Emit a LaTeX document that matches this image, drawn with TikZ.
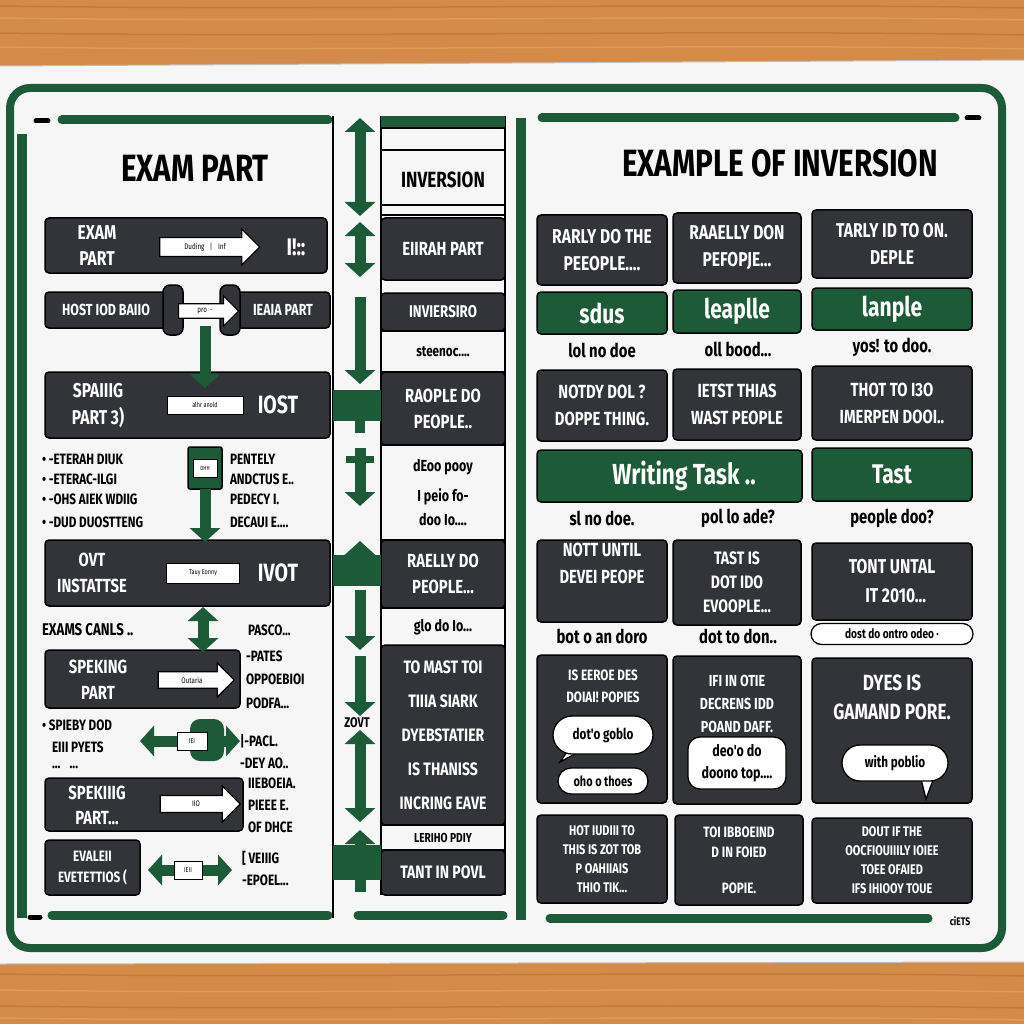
\documentclass[tikz,border=0pt]{standalone}
\usepackage{fontspec}
\setmainfont{Fira Sans}
\newfontfamily\cnd[FakeStretch=0.78]{Fira Sans}
\usetikzlibrary{arrows.meta,shapes.arrows,shapes.misc}
\newcommand\fsz[2]{\fontsize{#1}{#2}\selectfont}
\definecolor{wood}{HTML}{D38B47}
\definecolor{woodA}{HTML}{C47A3C}
\definecolor{woodB}{HTML}{DE9C58}
\definecolor{paper}{HTML}{F6F6F7}
\definecolor{gr}{HTML}{1C5A38}
\definecolor{dk}{HTML}{32343A}
\begin{document}
\begin{tikzpicture}[x=1pt,y=-1pt,
 base/.style={inner sep=0pt, outer sep=0pt, align=center, font=\cnd\bfseries},
 fs/.style 2 args={font=\cnd\bfseries\fsz{#1}{#2}},
 dbox/.style={base, fill=dk, draw=black, line width=1.5pt, rounded corners=4pt, text=white, anchor=north west},
 gbox/.style={base, fill=gr, draw=black, line width=1.5pt, rounded corners=4pt, text=white, anchor=north west},
 wbox/.style={base, fill=paper, draw=black, line width=1.3pt, anchor=north west, text=black},
 lbl/.style={base, text=black},
 wlbl/.style={base, text=white},
 tag/.style={base, fill=white, draw=black, line width=1pt, text=black, font=\cnd\fsz{7}{8}},
 warrow/.style={single arrow, fill=white, draw=black, line width=1.2pt, inner sep=2pt, single arrow head extend=6pt, text=black, font=\cnd\fsz{8}{9}},
 garrow/.style={draw=gr, line width=11pt, -{Triangle[length=14pt,width=30pt]}},
 gdarrow/.style={draw=gr, line width=11pt, {Triangle[length=14pt,width=30pt]}-{Triangle[length=14pt,width=30pt]}},
 gbar/.style={draw=gr, line width=9pt, line cap=round},
 bubble/.style={base, rounded rectangle, fill=white, draw=black, line width=1.3pt, text=black, fs={15}{18}},
]
\useasboundingbox (0,0) rectangle (1024,1024);
% ---------- table and paper
\fill[wood] (0,0) rectangle (1024,1024);
\foreach \yy/\cc in {6/woodA,18/woodB,33/woodA,47/woodB,974/woodA,990/woodB,1006/woodA,1018/woodB}
  \draw[\cc, line width=1.5pt] (0,\yy) .. controls (350,\yy+5) and (700,\yy-4) .. (1024,\yy+2);
\fill[paper] (0,66) -- (1024,60) -- (1024,962) -- (0,964) -- cycle;
\draw[black!25, line width=1pt] (0,66) -- (1024,60);
\draw[black!25, line width=1pt] (0,964) -- (1024,962);
\draw[gr, line width=8pt, rounded corners=20pt] (10,88) rectangle (1002,948);

% ---------- frame bars
\draw[gbar] (62,120) -- (328,120);
\draw[black, line width=5pt, line cap=round] (36,121) -- (48,121);
\draw[gr, line width=10pt] (22,134) -- (22,918);
\draw[black, line width=1.5pt] (333,116) -- (333,918);
\draw[gbar] (52,915) -- (328,915);
\draw[black, line width=5pt, line cap=round] (30,917) -- (40,917);
\draw[black, line width=1.5pt] (381,116) -- (381,895);
\draw[black, line width=1.5pt] (505,116) -- (505,895);
\draw[gbar] (358,915) -- (503,915);
\draw[gr, line width=10pt] (521,118) -- (521,920);
\draw[gbar] (542,118) -- (955,118);
\draw[black, line width=5pt, line cap=round] (967,118) -- (979,118);
\draw[gbar] (550,918) -- (928,918);
\node[lbl, fs={11}{12}] (sig) at (960,921) {ciETS};

% ---------- left panel
\node[lbl, fs={38}{40}] (t1) at (195,168) {EXAM PART};

\node[dbox, minimum width=282, minimum height=55] (r1) at (45,218) {};
\node[wlbl, fs={20}{26}] (r1a) at (97,246) {EXAM\\PART};
\node[warrow, minimum height=100, minimum width=36] (r1b) at (205,247) {Duding \; | \; Inf};
\node[wlbl, fs={24}{26}] (r1c) at (296,247) {I!::};

\node[dbox, minimum width=122, minimum height=36, fs={16}{18}] (r2a) at (45,292) {HOST IOD BAIIO};
\node[dbox, minimum width=94, minimum height=36, fs={16}{18}] (r2b) at (236,292) {IEAIA PART};
\node[dbox, minimum width=20, minimum height=50, rounded corners=7pt] (r2c) at (163,285) {};
\node[dbox, minimum width=20, minimum height=50, rounded corners=7pt] (r2d) at (220,285) {};
\node[warrow, minimum height=60, minimum width=30] (r2e) at (205,311) {pro \,-};
\coordinate (a1s) at (205,326);
\coordinate (a1e) at (205,388);

\node[dbox, minimum width=285, minimum height=66] (r4) at (45,372) {};
\node[wlbl, fs={20}{27}] (r4a) at (98,405) {SPAIIIG\\PART 3)};
\node[tag, minimum width=76, minimum height=18] (r4b) at (205,405) {alhr anold};
\node[wlbl, fs={25}{27}] (r4c) at (278,405) {IOST};

\node[lbl, anchor=west, fs={15}{17}] (b1) at (42,459) {• -ETERAH DIUK};
\node[lbl, anchor=west, fs={15}{17}] (b2) at (42,479) {• -ETERAC-ILGI};
\node[lbl, anchor=west, fs={15}{17}] (b3) at (42,499) {• -OHS AIEK WDIIG};
\node[lbl, anchor=west, fs={15}{17}] (b4) at (42,522) {• -DUD DUOSTTENG};
\node[gbox, minimum width=34, minimum height=42, rounded corners=2pt] (dev) at (188,447) {};
\node[tag, minimum width=24, minimum height=18, font=\cnd\fsz{6}{7}] (devt) at (205,468) {DHH};
\coordinate (a2s) at (205,489);
\coordinate (a2e) at (205,542);
\node[lbl, anchor=west, fs={15}{17}] (p1) at (230,459) {PENTELY};
\node[lbl, anchor=west, fs={15}{17}] (p2) at (230,479) {ANDCTUS E..};
\node[lbl, anchor=west, fs={15}{17}] (p3) at (230,499) {PEDECY I.};
\node[lbl, anchor=west, fs={15}{17}] (p4) at (230,522) {DECAUI E....};

\node[dbox, minimum width=285, minimum height=66] (r6) at (45,540) {};
\node[wlbl, fs={19}{26}] (r6a) at (92,573) {OVT\\INSTATTSE};
\node[tag, minimum width=73, minimum height=20] (r6b) at (203,573) {Tauy Eonny};
\node[wlbl, fs={25}{27}] (r6c) at (278,573) {IVOT};

\node[lbl, anchor=west, fs={17}{19}] (e1) at (42,630) {EXAMS CANLS ..};
\coordinate (a3s) at (203,607);
\coordinate (a3e) at (203,652);
\node[lbl, anchor=west, fs={15}{17}] (e2) at (248,630) {PASCO...};

\node[dbox, minimum width=195, minimum height=58] (r8) at (45,650) {};
\node[wlbl, fs={19}{26}] (r8a) at (98,680) {SPEKING\\PART};
\node[warrow, minimum height=76, minimum width=34] (r8b) at (192,680) {Outaria};
\node[lbl, anchor=west, fs={15}{17}] (q1) at (246,656) {-PATES};
\node[lbl, anchor=west, fs={15}{17}] (q2) at (246,679) {OPPOEBIOI};
\node[lbl, anchor=west, fs={15}{17}] (q3) at (246,703) {PODFA...};

\node[lbl, anchor=west, fs={15}{17}] (s1) at (42,725) {• SPIEBY DOD};
\node[lbl, anchor=west, fs={15}{17}] (s2) at (52,747) {EIII PYETS};
\node[lbl, anchor=west, fs={15}{17}] (s3) at (52,767) {... \ \ ...};
\node[gbox, minimum width=34, minimum height=42, rounded corners=10pt, draw=none] (blob) at (190,719) {};
\coordinate (a4s) at (140,741);
\coordinate (a4e) at (240,741);
\node[lbl, anchor=west, fs={15}{17}] (s4) at (240,741) {|-PACL.};
\node[lbl, anchor=west, fs={15}{17}] (s5) at (240,763) {-DEY AO..};

\node[dbox, minimum width=198, minimum height=53] (r10) at (45,778) {};
\node[wlbl, fs={19}{25}] (r10a) at (97,805) {SPEKIIIG\\PART...};
\node[warrow, minimum height=80, minimum width=36] (r10b) at (196,804) {IIO};
\node[lbl, anchor=west, fs={15}{17}] (u1) at (248,783) {IIEBOEIA.};
\node[lbl, anchor=west, fs={15}{17}] (u2) at (248,805) {PIEEE E.};
\node[lbl, anchor=west, fs={15}{17}] (u3) at (248,827) {OF DHCE};

\node[dbox, minimum width=95, minimum height=55, fs={15}{21}] (r11) at (45,840) {EVALEII\\EVETETTIOS (};
\coordinate (a5s) at (148,870);
\coordinate (a5e) at (232,870);
\node[lbl, anchor=west, fs={15}{17}] (v1) at (242,858) {[ VEIIIG};
\node[lbl, anchor=west, fs={15}{17}] (v2) at (242,880) {-EPOEL...};

% left arrows
\draw[garrow] (a1s) -- (a1e);
\draw[garrow] (a2s) -- (a2e);
\draw[gdarrow] (a3s) -- (a3e);
\draw[gdarrow] (a4s) -- (a4e);
\node[tag, minimum width=30, minimum height=18] (a4t) at (192,741) {IEI};
\draw[gdarrow] (a5s) -- (a5e);
\node[tag, minimum width=28, minimum height=18] (a5t) at (188,870) {IEII};

% ---------- middle column
\fill[gr] (381,116) rectangle (505,128);
\node[wbox, minimum width=124, minimum height=87] (mh) at (381,128) {};
\draw[black, line width=1.3pt] (381,150) -- (505,150);
\draw[black, line width=1.3pt] (381,205) -- (505,205);
\node[lbl, fs={22}{24}] (mht) at (443,180) {INVERSION};
\node[dbox, minimum width=124, minimum height=62, fs={19}{21}] (m1) at (381,218) {EIIRAH PART};
\node[dbox, minimum width=124, minimum height=38, fs={17}{19}] (m2) at (381,293) {INVIERSIRO};
\node[wbox, minimum width=124, minimum height=41, fs={15}{17}] (m3) at (381,331) {steenoc....};
\node[dbox, minimum width=124, minimum height=73, fs={19}{26}] (m4) at (381,372) {RAOPLE DO\\PEOPLE..};
\node[wbox, minimum width=124, minimum height=95, fs={16}{24}] (m5) at (381,445) {dEoo pooy\\[6pt]I peio fo-\\doo Io....};
\node[dbox, minimum width=124, minimum height=68, fs={19}{26}] (m6) at (381,540) {RAELLY DO\\PEOPLE...};
\node[wbox, minimum width=124, minimum height=38, fs={16}{18}] (m7) at (381,608) {glo do Io...};
\node[dbox, minimum width=124, minimum height=180, fs={18}{34}] (m8) at (381,645) {TO MAST TOI\\TIIIA SIARK\\DYEBSTATIER\\IS THANISS\\INCRING EAVE};
\node[wbox, minimum width=124, minimum height=25, fs={13}{15}] (m9) at (381,825) {LERIHO PDIY};
\node[dbox, minimum width=124, minimum height=45, fs={18}{20}] (m10) at (381,850) {TANT IN POVL};

% middle arrows
\coordinate (c1a) at (360,118); \coordinate (c1b) at (360,216);
\coordinate (c2a) at (360,222); \coordinate (c2b) at (360,277);
\coordinate (c3a) at (360,297); \coordinate (c3b) at (360,384);
\coordinate (c4a) at (360,448); \coordinate (c4b) at (360,506);
\coordinate (c5a) at (360,556); \coordinate (c5b) at (360,541);
\coordinate (c6a) at (360,590); \coordinate (c6b) at (360,650);
\coordinate (c7a) at (360,656); \coordinate (c7b) at (360,716);
\coordinate (c8a) at (360,730); \coordinate (c8b) at (360,822);
\coordinate (c9a) at (360,892); \coordinate (c9b) at (360,830);
\draw[gdarrow] (c1a) -- (c1b);
\draw[gdarrow] (c2a) -- (c2b);
\draw[garrow] (c3a) -- (c3b);
\fill[gr] (333,390) rectangle (381,421);
\fill[gr] (355,421) rectangle (365,433);
\draw[garrow] (c4a) -- (c4b);
\fill[gr] (346,456) rectangle (374,463);
\draw[garrow] (c5a) -- (c5b);
\fill[gr] (333,555) rectangle (381,586);
\draw[garrow] (c6a) -- (c6b);
\draw[garrow] (c7a) -- (c7b);
\node[lbl, fs={14}{16}] (zv) at (357,723) {ZOVT};
\draw[gdarrow] (c8a) -- (c8b);
\draw[garrow] (c9a) -- (c9b);
\fill[gr] (333,845) rectangle (381,880);

% ---------- right panel
\node[lbl, fs={38}{40}] (t2) at (780,163) {EXAMPLE OF INVERSION};

\node[dbox, minimum width=130, minimum height=70, fs={20}{27}] (g11) at (537,215) {RARLY DO THE\\PEEOPLE....};
\node[dbox, minimum width=128, minimum height=70, fs={20}{27}] (g12) at (673,213) {RAAELLY DON\\PEFOPJE...};
\node[dbox, minimum width=160, minimum height=68, fs={20}{27}] (g13) at (812,210) {TARLY ID TO ON.\\DEPLE};

\node[gbox, minimum width=130, minimum height=42, fs={27}{29}] (g21) at (537,292) {sdus};
\node[gbox, minimum width=128, minimum height=43, fs={27}{29}] (g22) at (673,290) {leaplle};
\node[gbox, minimum width=160, minimum height=42, fs={27}{29}] (g23) at (812,288) {lanple};

\node[lbl, fs={19}{21}] (g31) at (602,350) {lol no doe};
\node[lbl, fs={19}{21}] (g32) at (738,349) {oll bood...};
\node[lbl, fs={19}{21}] (g33) at (892,347) {yos! to doo.};

\node[dbox, minimum width=130, minimum height=71, fs={19}{27}] (g41) at (537,370) {NOTDY DOL ?\\DOPPE THING.};
\node[dbox, minimum width=128, minimum height=71, fs={19}{27}] (g42) at (673,369) {IETST THIAS\\WAST PEOPLE};
\node[dbox, minimum width=160, minimum height=74, fs={19}{27}] (g43) at (812,366) {THOT TO I3O\\IMERPEN DOOI..};

\node[gbox, minimum width=265, minimum height=52, font=\cnd\fsz{29}{31}\mdseries] (g51) at (537,450) {\quad \textbf{Writing Task ..}};
\node[gbox, minimum width=160, minimum height=53, fs={27}{29}] (g52) at (812,448) {Tast};

\node[lbl, fs={19}{21}] (g61) at (602,518) {sl no doe.};
\node[lbl, fs={19}{21}] (g62) at (738,518) {pol lo ade?};
\node[lbl, fs={19}{21}] (g63) at (892,518) {people doo?};

\node[dbox, minimum width=130, minimum height=82, fs={19}{27}] (g71) at (537,540) {NOTT UNTIL\\DEVEI PEOPE\\[8pt]};
\node[dbox, minimum width=128, minimum height=85, fs={18}{24}] (g72) at (673,540) {TAST IS\\DOT IDO\\EVOOPLE...};
\node[dbox, minimum width=160, minimum height=77, fs={20}{29}] (g73) at (812,543) {TONT UNTAL\\\ \ IT 2010...};

\node[lbl, fs={19}{21}] (g81) at (602,636) {bot o an doro};
\node[lbl, fs={19}{21}] (g82) at (738,636) {dot to don..};
\node[base, rounded rectangle, fill=white, draw=black, line width=1.3pt, minimum width=162, minimum height=21, fs={13}{15}] (g83) at (892,634) {dost do ontro odeo ·};

\node[dbox, minimum width=130, minimum height=148] (g91) at (537,655) {};
\node[dbox, minimum width=128, minimum height=148] (g92) at (673,656) {};
\node[dbox, minimum width=160, minimum height=145] (g93) at (812,658) {};
\node[wlbl, fs={15}{22}] (g91t) at (603,686) {IS EEROE DES\\DOIAI! POPIES};
\filldraw[fill=white, draw=black, line width=1.3pt] (572,745) -- (560,762) -- (582,750) -- cycle;
\node[bubble, minimum width=100, minimum height=38] (g91b) at (603,735) {dot'o goblo};
\node[bubble, minimum width=90, minimum height=26, fs={14}{16}] (g91c) at (603,781) {oho o thoes};
\node[wlbl, fs={16}{23}] (g92t) at (737,704) {IFI IN OTIE\\DECRENS IDD\\POAND DAFF.};
\node[base, fill=white, draw=black, line width=1.3pt, rounded corners=12pt, minimum width=98, minimum height=52, text=black, fs={16}{22}] (g92b) at (737,763) {deo'o do\\doono top....};
\node[wlbl, fs={22}{29}] (g93t) at (892,697) {DYES IS\\GAMAND PORE.};
\filldraw[fill=white, draw=black, line width=1.3pt] (920,775) -- (926,799) -- (936,772) -- cycle;
\node[bubble, minimum width=106, minimum height=36] (g93b) at (895,763) {with poblio};

\node[dbox, minimum width=130, minimum height=88, fs={14}{19}] (g101) at (537,815) {HOT IUDIII TO\\THIS IS ZOT TOB\\P OAHIIAIS\\THIO TIK...};
\node[dbox, minimum width=128, minimum height=90, fs={15}{20}] (g102) at (675,815) {TOI IBBOEIND\\D IN FOIED\\[16pt]POPIE.};
\node[dbox, minimum width=160, minimum height=85, fs={14}{19}] (g103) at (812,818) {DOUT IF THE\\OOCFIOUIIILY IOIEE\\TOEE OFAIED\\IFS IHIOOY TOUE};
\end{tikzpicture}
\end{document}
